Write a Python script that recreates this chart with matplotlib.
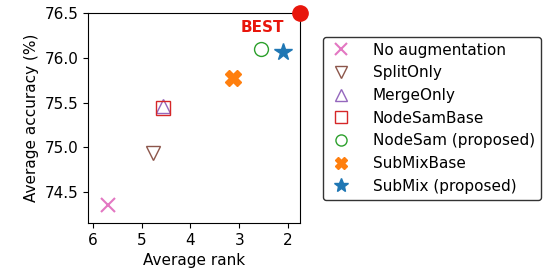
import matplotlib
matplotlib.use("Agg")
from matplotlib import pyplot as plt

methods = ['No augmentation', 'SplitOnly', 'MergeOnly', 'NodeSamBase',
           'NodeSam (proposed)', 'SubMixBase', 'SubMix (proposed)']
avgRank = [5.69, 4.77, 4.56, 4.56, 2.56, 3.12, 2.11]
avgAcc = [74.35, 74.93, 75.46, 75.44, 76.10, 75.77, 76.06]
markers = ['x', 'v', '^', 's', 'o', 'X', '*']
colors = ['tab:pink', 'tab:brown', 'tab:purple', 'tab:red',
          'tab:green', 'tab:orange', 'tab:blue']
filled = [True, False, False, False, False, True, True]
sizes = [10, 10, 10, 10, 10, 11, 13]

bestRank = 1.75
bestAcc = 76.5

fig = plt.figure(figsize=(5.43, 2.8), dpi=100)
ax = fig.add_axes([0.162, 0.203, 0.391, 0.75])

for i in range(len(methods)):
    if filled[i]:
        ax.plot(avgRank[i], avgAcc[i], linestyle='none', marker=markers[i],
                color=colors[i], markersize=sizes[i], label=methods[i],
                markeredgewidth=1.5 if markers[i] == 'x' else 1.0)
    else:
        ax.plot(avgRank[i], avgAcc[i], linestyle='none', marker=markers[i],
                markerfacecolor='none', markeredgecolor=colors[i],
                markersize=sizes[i], label=methods[i], markeredgewidth=1.0)

ax.plot(bestRank, bestAcc, linestyle='none', marker='o', color='#e8160c',
        markersize=11, clip_on=False, zorder=5)
ax.text(2.53, 76.34, 'BEST', color='#e8160c', fontweight='bold',
        fontsize=11, ha='center', va='center')

ax.set_xlim(6.1, 1.75)
ax.set_ylim(74.15, 76.5)
ax.set_xticks([6, 5, 4, 3, 2])
ax.set_yticks([74.5, 75.0, 75.5, 76.0, 76.5])
ax.tick_params(labelsize=11)
ax.set_xlabel('Average rank', fontsize=11)
ax.set_ylabel('Average accuracy (%)', fontsize=11)

ax.legend(loc='center left', bbox_to_anchor=(1.108, 0.5), borderaxespad=0,
          fontsize=11, frameon=True, edgecolor='black', handlelength=1.5,
          handletextpad=1.35, markerscale=0.8, labelspacing=0.5)

plt.savefig('out.png', dpi=100)
